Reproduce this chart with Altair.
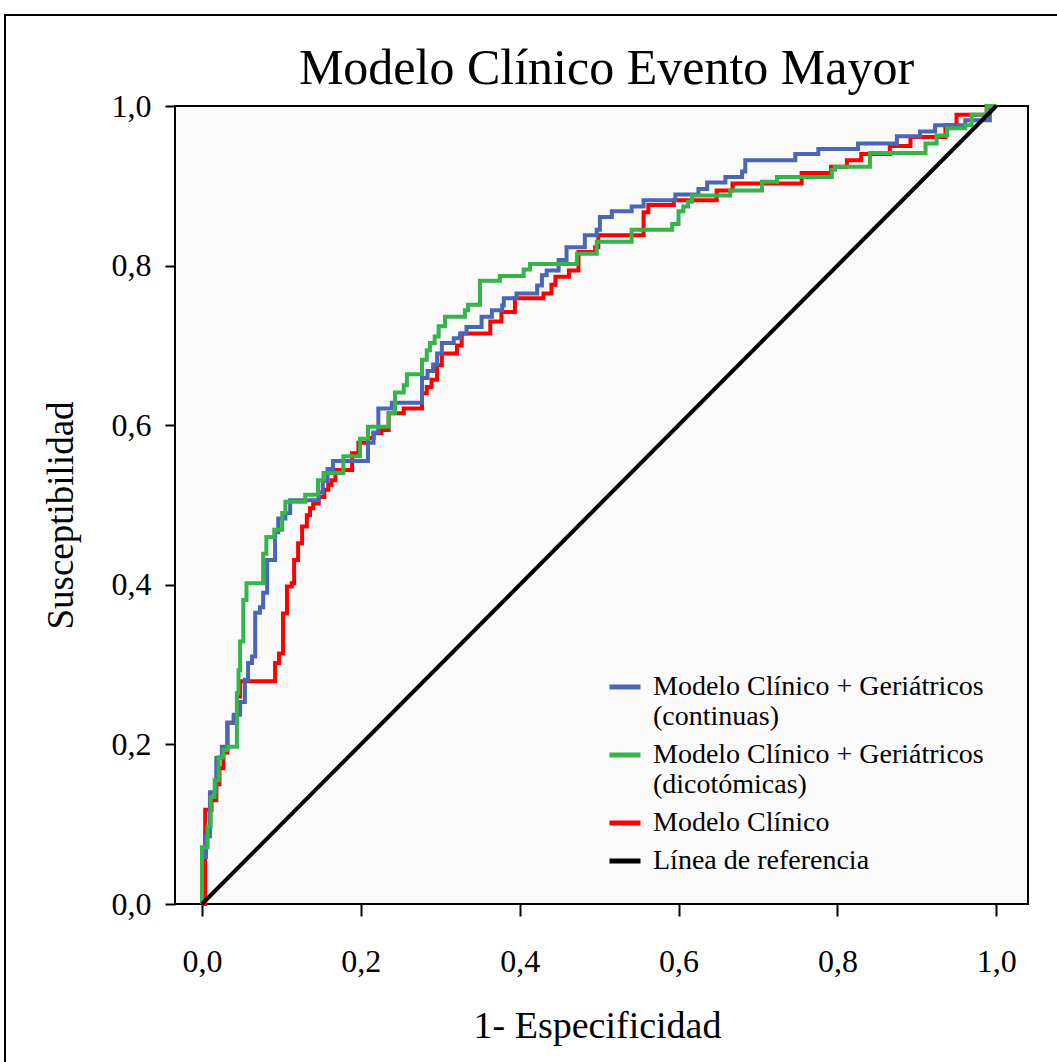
import altair as alt
import pandas as pd

# Series names ("|" marks a line break in the legend label)
SERIES = [
    "Modelo Clínico + Geriátricos|(continuas)",
    "Modelo Clínico + Geriátricos|(dicotómicas)",
    "Modelo Clínico",
    "Línea de referencia",
]
COLORS = ["#4a67b7", "#36b44a", "#ff0000", "#000000"]

# ROC curve: Modelo Clínico + Geriátricos (continuas)
blue_fpr = [0.000, 0.000, 0.005, 0.010, 0.018, 0.025, 0.032, 0.040, 0.048, 0.054,
            0.058, 0.063, 0.067, 0.073, 0.077, 0.082, 0.092, 0.096, 0.105, 0.111,
            0.147, 0.152, 0.158, 0.165, 0.209, 0.216, 0.222, 0.239, 0.277, 0.284,
            0.291, 0.296, 0.302, 0.317, 0.325, 0.333, 0.352, 0.365, 0.378, 0.380,
            0.396, 0.422, 0.428, 0.434, 0.449, 0.459, 0.482, 0.497, 0.501, 0.516,
            0.541, 0.556, 0.596, 0.625, 0.636, 0.659, 0.680, 0.684, 0.747, 0.776,
            0.826, 0.875, 0.904, 0.923, 0.961, 0.992, 1.000]
blue_tpr = [0.000, 0.059, 0.085, 0.140, 0.183, 0.197, 0.227, 0.237, 0.253, 0.281,
            0.302, 0.310, 0.365, 0.372, 0.390, 0.431, 0.466, 0.483, 0.490, 0.506,
            0.516, 0.530, 0.545, 0.555, 0.578, 0.591, 0.621, 0.628, 0.659, 0.668,
            0.676, 0.690, 0.703, 0.709, 0.715, 0.723, 0.736, 0.744, 0.750, 0.759,
            0.765, 0.775, 0.788, 0.794, 0.807, 0.823, 0.838, 0.845, 0.861, 0.868,
            0.874, 0.882, 0.889, 0.896, 0.904, 0.911, 0.918, 0.932, 0.940, 0.946,
            0.953, 0.962, 0.968, 0.976, 0.982, 1.000, 1.000]

# ROC curve: Modelo Clínico + Geriátricos (dicotómicas)
green_fpr = [0.000, 0.000, 0.007, 0.011, 0.016, 0.021, 0.027, 0.032, 0.044, 0.046,
             0.048, 0.052, 0.056, 0.077, 0.081, 0.091, 0.101, 0.105, 0.130, 0.146,
             0.153, 0.178, 0.199, 0.209, 0.235, 0.243, 0.254, 0.258, 0.277, 0.283,
             0.287, 0.293, 0.298, 0.306, 0.331, 0.335, 0.350, 0.375, 0.405, 0.413,
             0.472, 0.497, 0.541, 0.592, 0.600, 0.606, 0.612, 0.617, 0.665, 0.705,
             0.724, 0.793, 0.797, 0.841, 0.911, 0.925, 0.938, 0.961, 0.969, 0.988,
             1.000]
green_tpr = [0.000, 0.071, 0.097, 0.134, 0.155, 0.184, 0.193, 0.197, 0.264, 0.293,
             0.329, 0.381, 0.402, 0.439, 0.460, 0.469, 0.490, 0.504, 0.513, 0.531,
             0.540, 0.561, 0.583, 0.598, 0.615, 0.641, 0.650, 0.664, 0.682, 0.694,
             0.703, 0.711, 0.724, 0.736, 0.744, 0.751, 0.781, 0.787, 0.795, 0.802,
             0.815, 0.830, 0.845, 0.852, 0.868, 0.874, 0.880, 0.888, 0.894, 0.905,
             0.911, 0.920, 0.924, 0.941, 0.953, 0.963, 0.972, 0.976, 0.989, 1.000,
             1.000]

# ROC curve: Modelo Clínico
red_fpr = [0.000, 0.004, 0.012, 0.018, 0.022, 0.027, 0.032, 0.040, 0.044, 0.048,
           0.092, 0.097, 0.102, 0.107, 0.113, 0.116, 0.121, 0.126, 0.132, 0.136,
           0.140, 0.147, 0.154, 0.159, 0.163, 0.168, 0.189, 0.197, 0.209, 0.216,
           0.226, 0.235, 0.254, 0.277, 0.283, 0.289, 0.296, 0.302, 0.321, 0.327,
           0.363, 0.377, 0.394, 0.430, 0.440, 0.445, 0.462, 0.474, 0.495, 0.499,
           0.556, 0.562, 0.594, 0.648, 0.668, 0.755, 0.792, 0.812, 0.830, 0.866,
           0.892, 0.936, 0.950, 0.988, 1.000]
red_tpr = [0.000, 0.118, 0.130, 0.150, 0.170, 0.190, 0.227, 0.235, 0.260, 0.279,
           0.302, 0.314, 0.364, 0.398, 0.402, 0.431, 0.452, 0.473, 0.487, 0.496,
           0.502, 0.510, 0.519, 0.525, 0.531, 0.544, 0.565, 0.578, 0.584, 0.590,
           0.594, 0.615, 0.621, 0.640, 0.648, 0.657, 0.675, 0.690, 0.700, 0.715,
           0.730, 0.742, 0.759, 0.765, 0.776, 0.786, 0.794, 0.817, 0.823, 0.838,
           0.867, 0.876, 0.882, 0.894, 0.903, 0.916, 0.924, 0.932, 0.940, 0.950,
           0.961, 0.976, 0.989, 1.000, 1.000]

# Diagonal reference line
ref_fpr = [0.0, 1.0]
ref_tpr = [0.0, 1.0]

TICKS = [0.0, 0.2, 0.4, 0.6, 0.8, 1.0]
FONT = "Liberation Serif"


def curve(name, fpr, tpr):
    return pd.DataFrame({"serie": name, "fpr": fpr, "tpr": tpr, "orden": range(len(fpr))})


df_blue = curve(SERIES[0], blue_fpr, blue_tpr)
df_green = curve(SERIES[1], green_fpr, green_tpr)
df_red = curve(SERIES[2], red_fpr, red_tpr)
df_ref = curve(SERIES[3], ref_fpr, ref_tpr)

label_expr = "replace(format(datum.value, '.1f'), '.', ',')"

x_enc = alt.X(
    "fpr:Q",
    scale=alt.Scale(domain=[-0.034, 1.040], nice=False, zero=False),
    axis=alt.Axis(
        values=TICKS, labelExpr=label_expr, title="1- Especificidad",
        domain=False, grid=False, tickColor="black", tickWidth=2, tickSize=12,
        labelFont=FONT, labelFontSize=32, labelColor="black", labelPadding=30,
        titleFont=FONT, titleFontSize=38, titleFontWeight="normal", titleColor="black",
        titleY=133, titleX=422, titleBaseline="alphabetic",
    ),
)
y_enc = alt.Y(
    "tpr:Q",
    scale=alt.Scale(domain=[0, 1], nice=False),
    axis=alt.Axis(
        values=TICKS, labelExpr=label_expr, title="Susceptibilidad",
        domain=False, grid=False, tickColor="black", tickWidth=2, tickSize=10,
        labelFont=FONT, labelFontSize=32, labelColor="black", labelPadding=14,
        titleFont=FONT, titleFontSize=37, titleFontWeight="normal", titleColor="black",
        titleX=-103, titleY=409, titleBaseline="alphabetic",
    ),
)
color_enc = alt.Color(
    "serie:N",
    scale=alt.Scale(domain=SERIES, range=COLORS),
    legend=alt.Legend(
        title=None, orient="none", legendX=432, legendY=563, padding=0,
        symbolType="stroke", symbolStrokeWidth=5, symbolSize=961,
        labelFont=FONT, labelFontSize=28, labelColor="black",
        labelLimit=0, labelOffset=10, rowPadding=6,
        labelExpr="split(datum.label, '|')",
    ),
)


def roc_layer(df):
    return alt.Chart(df).mark_line(
        interpolate="step-after", strokeWidth=4, strokeJoin="miter"
    ).encode(x=x_enc, y=y_enc, color=color_enc, order="orden:Q")


# Outer frame around the figure
frame = alt.Chart(pd.DataFrame({"k": [0]})).mark_rect(
    fillOpacity=0, stroke="black", strokeWidth=2
).encode(
    x=alt.value(-170), x2=alt.value(1000), y=alt.value(-91), y2=alt.value(1100)
)

diag = alt.Chart(df_ref).mark_line(strokeWidth=4).encode(
    x=x_enc, y=y_enc, color=color_enc, order="orden:Q"
)

chart = alt.layer(
    frame, roc_layer(df_red), roc_layer(df_blue), roc_layer(df_green), diag
).properties(
    width=853,
    height=798,
    background="white",
    title=alt.TitleParams(
        "Modelo Clínico Evento Mayor", font=FONT, fontSize=50, fontWeight="normal",
        color="black", anchor="middle", frame="group", baseline="alphabetic",
        offset=24, dx=5, dy=144,
    ),
    autosize=alt.AutoSizeParams(type="none"),
    padding={"left": 175, "top": 106, "right": 29, "bottom": 158},
).configure_view(
    stroke="black", strokeWidth=2, fill="#fafafa"
)

chart.save("out.html", embed_options={"renderer": "svg", "actions": False})
